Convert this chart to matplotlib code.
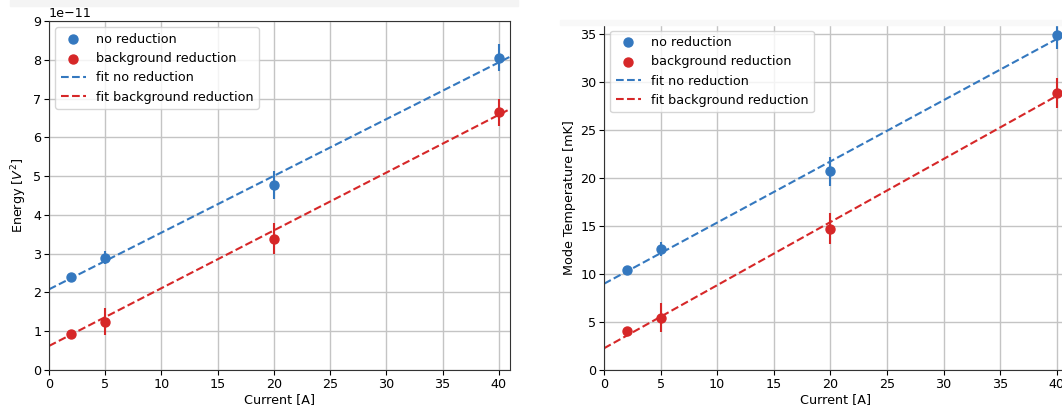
import numpy as np
import matplotlib
matplotlib.use("Agg")
import matplotlib.pyplot as plt
from matplotlib.patches import Rectangle

# ---- data ----
current = [2, 5, 20, 40]

energy_no_red = [2.40e-11, 2.90e-11, 4.77e-11, 8.05e-11]
energy_no_red_err = [0.05e-11, 0.17e-11, 0.35e-11, 0.35e-11]
energy_bg_red = [0.93e-11, 1.25e-11, 3.39e-11, 6.65e-11]
energy_bg_red_err = [0.05e-11, 0.34e-11, 0.40e-11, 0.35e-11]
energy_fit_no_red = (0.1463e-11, 2.08e-11)   # slope, intercept
energy_fit_bg_red = (0.149e-11, 0.62e-11)

temp_no_red = [10.37, 12.56, 20.7, 34.93]
temp_no_red_err = [0.2, 0.73, 1.5, 1.5]
temp_bg_red = [4.04, 5.46, 14.72, 28.88]
temp_bg_red_err = [0.2, 1.5, 1.6, 1.55]
temp_fit_no_red = (0.637, 8.98)
temp_fit_bg_red = (0.657, 2.26)

BLUE = "#3478bf"
RED = "#d62728"
FS = 9.2

plt.rcParams["font.family"] = ["DejaVu Sans"]
plt.rcParams["font.size"] = FS

fig = plt.figure(figsize=(10.62, 4.12), dpi=100)

# faint screenshot bands
fig.patches.append(Rectangle((10/1062, 1-6/412), 508/1062, 6/412,
                             transform=fig.transFigure, color="#f4f4f4", zorder=0))
fig.patches.append(Rectangle((560/1062, 1-25/412), 502/1062, 5/412,
                             transform=fig.transFigure, color="#f8f8f8", zorder=0))

ax1 = fig.add_axes([49/1062, 42/412, 461/1062, 349/412])
ax2 = fig.add_axes([604/1062, 42/412, 464/1062, 345.7/412])


def draw(ax, y1, e1, y2, e2, f1, f2, ylim, ylabel):
    xs = np.linspace(0, 41, 100)
    ax.errorbar(current, y1, yerr=e1, fmt="none", ecolor=BLUE, elinewidth=1.5, zorder=3)
    ax.errorbar(current, y2, yerr=e2, fmt="none", ecolor=RED, elinewidth=1.5, zorder=3)
    ax.scatter(current, y1, s=42, color=BLUE, label="no reduction", zorder=4)
    ax.scatter(current, y2, s=42, color=RED, label="background reduction", zorder=4)
    ax.plot(xs, f1[0]*xs + f1[1], "--", color=BLUE, lw=1.5, label="fit no reduction", zorder=2)
    ax.plot(xs, f2[0]*xs + f2[1], "--", color=RED, lw=1.5, label="fit background reduction", zorder=2)
    ax.set_xlim(0, 41)
    ax.set_ylim(*ylim)
    ax.set_xticks(np.arange(0, 41, 5))
    ax.grid(True, color="#c4c4c4", lw=1.0)
    ax.set_axisbelow(True)
    ax.set_xlabel("Current [A]", fontsize=FS, labelpad=2)
    ax.set_ylabel(ylabel, fontsize=FS, labelpad=3)
    ax.tick_params(labelsize=FS, length=3.5, pad=2)
    for s in ax.spines.values():
        s.set_color("#333333")
    ax.legend(loc="upper left", fontsize=FS, scatterpoints=1, handlelength=2.0,
              framealpha=0.8, borderaxespad=0.5, labelspacing=0.5)


draw(ax1, energy_no_red, energy_no_red_err, energy_bg_red, energy_bg_red_err,
     energy_fit_no_red, energy_fit_bg_red, (0, 9e-11), "Energy [$V^2$]")
ax1.set_yticks(np.arange(0, 9.5, 1) * 1e-11)
ax1.yaxis.get_offset_text().set_fontsize(FS)

draw(ax2, temp_no_red, temp_no_red_err, temp_bg_red, temp_bg_red_err,
     temp_fit_no_red, temp_fit_bg_red, (0, 36), "Mode Temperature [mK]")
ax2.set_yticks(np.arange(0, 36, 5))

fig.savefig("out.png", dpi=100)
